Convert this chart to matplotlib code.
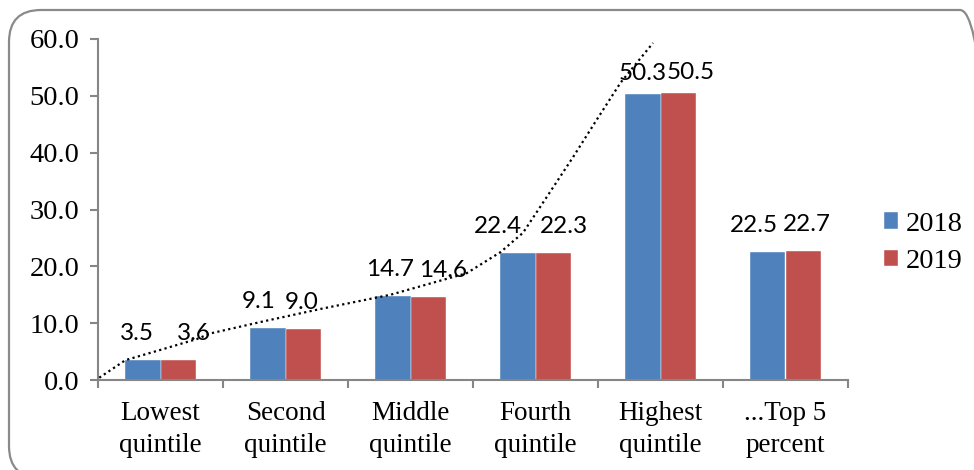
import matplotlib
matplotlib.use("Agg")
import matplotlib.pyplot as plt
import numpy as np
from matplotlib.patches import FancyBboxPatch
from matplotlib.transforms import IdentityTransform

# data
CATEGORIES = ["Lowest\nquintile", "Second\nquintile", "Middle\nquintile",
              "Fourth\nquintile", "Highest\nquintile", "...Top 5\npercent"]
SERIES = ["2018", "2019"]
VALS_2018 = [3.5, 9.1, 14.7, 22.4, 50.3, 22.5]
VALS_2019 = [3.6, 9.0, 14.6, 22.3, 50.5, 22.7]
Y_TICKS = [0, 10, 20, 30, 40, 50, 60]

# hand-drawn dotted trend curve (category units, value)
TREND_X = [-0.49, -0.28, 0.0, 0.29, 0.40, 0.82, 1.28, 1.84, 2.45, 2.72,
           2.90, 3.09, 3.30, 3.49, 3.68, 3.94]
TREND_Y = [0.4, 3.5, 5.3, 7.2, 8.2, 10.3, 12.5, 15.0, 18.8, 22.5,
           25.9, 32.2, 39.2, 45.8, 52.3, 59.3]

COLORS = {"2018": "#4F81BD", "2019": "#C0504D"}
SERIF = "Liberation Serif"
LABEL_FONT = "Lato"

# label nudges in pixels (label placement in the original is not centred)
DX = {"2018": [-6, -9, -3, -20, 0, -14], "2019": [16, -2, 15, 11, 12, 4]}
DY = [20, 20, 20, 20, 14, 20]

W, H = 974, 470
fig = plt.figure(figsize=(W / 100, H / 100), dpi=100)
ax = fig.add_axes([98 / W, 1 - 380 / H, 750 / W, 341 / H])

x = np.arange(len(CATEGORIES))
bw = 0.284
px2pt = 0.72
for k, (name, vals) in enumerate(zip(SERIES, [VALS_2018, VALS_2019])):
    off = (k - 0.5) * bw
    ax.bar(x + off, vals, bw, color=COLORS[name], label=name,
           edgecolor="white", linewidth=0.3, zorder=2)
    for i, v in enumerate(vals):
        ax.annotate(f"{v:.1f}", (x[i] + off, v),
                    xytext=(DX[name][i] * px2pt, DY[i] * px2pt),
                    textcoords="offset points", ha="center", va="baseline",
                    fontsize=17.5, family=LABEL_FONT, zorder=4)

ax.plot(TREND_X, TREND_Y, color="black", linestyle=(0, (1, 1.5)),
        linewidth=1.6, zorder=3, clip_on=False)

ax.set_xlim(-0.5, len(CATEGORIES) - 0.5)
ax.set_ylim(0, 60)
ax.set_yticks(Y_TICKS)
ax.set_yticklabels([f"{t:.1f}" for t in Y_TICKS], fontsize=20.5, family=SERIF)
ax.set_xticks(x)
ax.set_xticklabels(CATEGORIES, fontsize=19.5, family=SERIF, linespacing=1.4)
ax.set_xticks(np.arange(-0.5, len(CATEGORIES)), minor=True)

spine_c = "#868686"
for s in ["top", "right"]:
    ax.spines[s].set_visible(False)
for s in ["left", "bottom"]:
    ax.spines[s].set_color(spine_c)
    ax.spines[s].set_linewidth(1.5)
ax.tick_params(axis="y", length=5.5, width=1.5, color=spine_c, pad=8)
ax.tick_params(axis="x", which="major", length=0, pad=15)
ax.tick_params(axis="x", which="minor", length=5.5, width=1.5, color=spine_c)

leg = fig.legend(loc="center left", bbox_to_anchor=(884 / W, 1 - 243 / H),
                 frameon=False, prop={"family": SERIF, "size": 20.5},
                 borderpad=0, borderaxespad=0,
                 handlelength=0.5, handleheight=0.5, handletextpad=0.25,
                 labelspacing=0.45)

frame = FancyBboxPatch((9, -8), 983, 468, boxstyle="round,pad=0,rounding_size=32",
                       transform=IdentityTransform(), facecolor="none",
                       edgecolor="#8a8a8a", linewidth=1.6, zorder=0)
fig.patches.append(frame)

fig.savefig("out.png", dpi=100)
